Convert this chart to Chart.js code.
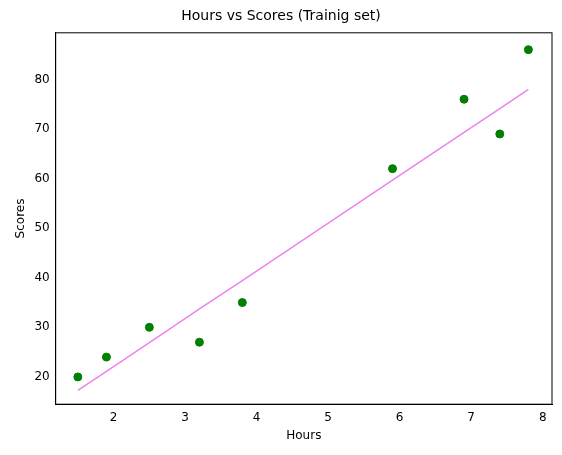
<!DOCTYPE html>
<html><head><meta charset="utf-8">
<script src="https://cdn.jsdelivr.net/npm/chart.js@4/dist/chart.umd.min.js"></script>
<style>html,body{margin:0;padding:0;background:#fff}#w{width:562px;height:455px}</style>
</head><body><div id="w"><canvas id="c"></canvas></div>
<script>
const hours = [1.5, 1.9, 2.5, 3.2, 3.8, 5.9, 6.9, 7.4, 7.8];
const scores = [20, 24, 30, 27, 35, 62, 76, 69, 86];
const fitted = [17.3, 21.1, 26.9, 33.7, 39.4, 59.7, 69.3, 74.1, 78.0];
const xTicks = [2, 3, 4, 5, 6, 7, 8];
const yTicks = [20, 30, 40, 50, 60, 70, 80];

Chart.defaults.font.family = "DejaVu Sans";
Chart.defaults.color = "#000";
new Chart(document.getElementById('c'), {
  type: 'scatter',
  data: { datasets: [
    { data: hours.map((h,i)=>({x:h,y:scores[i]})), backgroundColor:'green', borderColor:'green', pointRadius:4 },
    { type:'line', data: hours.map((h,i)=>({x:h,y:fitted[i]})), borderColor:'violet', borderWidth:1.5, pointRadius:0, fill:false }
  ]},
  options: {
    responsive:true, maintainAspectRatio:false, animation:false,
    layout:{padding:{left:10,right:10,top:2,bottom:12}},
    plugins:{ legend:{display:false}, tooltip:{enabled:false},
      title:{display:true, text:'Hours vs Scores (Trainig set)', font:{size:14, weight:'normal'}, padding:{top:6,bottom:8}} },
    scales:{
      x:{ min:1.19, max:8.13, title:{display:true,text:'Hours',font:{size:12}, padding:{top:2,bottom:0}},
        afterBuildTicks: a => { a.ticks = xTicks.map(v=>({value:v})); },
        grid:{display:false, drawTicks:true, tickLength:4, tickColor:'#000'}, border:{color:'#000'},
        ticks:{font:{size:12}, padding:2} },
      y:{ min:14.5, max:89.4, title:{display:true,text:'Scores',font:{size:12}},
        afterBuildTicks: a => { a.ticks = yTicks.map(v=>({value:v})); },
        grid:{display:false, drawTicks:true, tickLength:4, tickColor:'#000'}, border:{color:'#000'},
        ticks:{font:{size:12}, padding:2} }
    }
  },
  plugins:[{id:'frame', afterDraw(ch){const {ctx,chartArea:a}=ch;ctx.save();ctx.strokeStyle='#000';ctx.lineWidth=1;ctx.strokeRect(a.left,a.top,a.right-a.left,a.bottom-a.top);ctx.restore();}}]
});
</script></body></html>
